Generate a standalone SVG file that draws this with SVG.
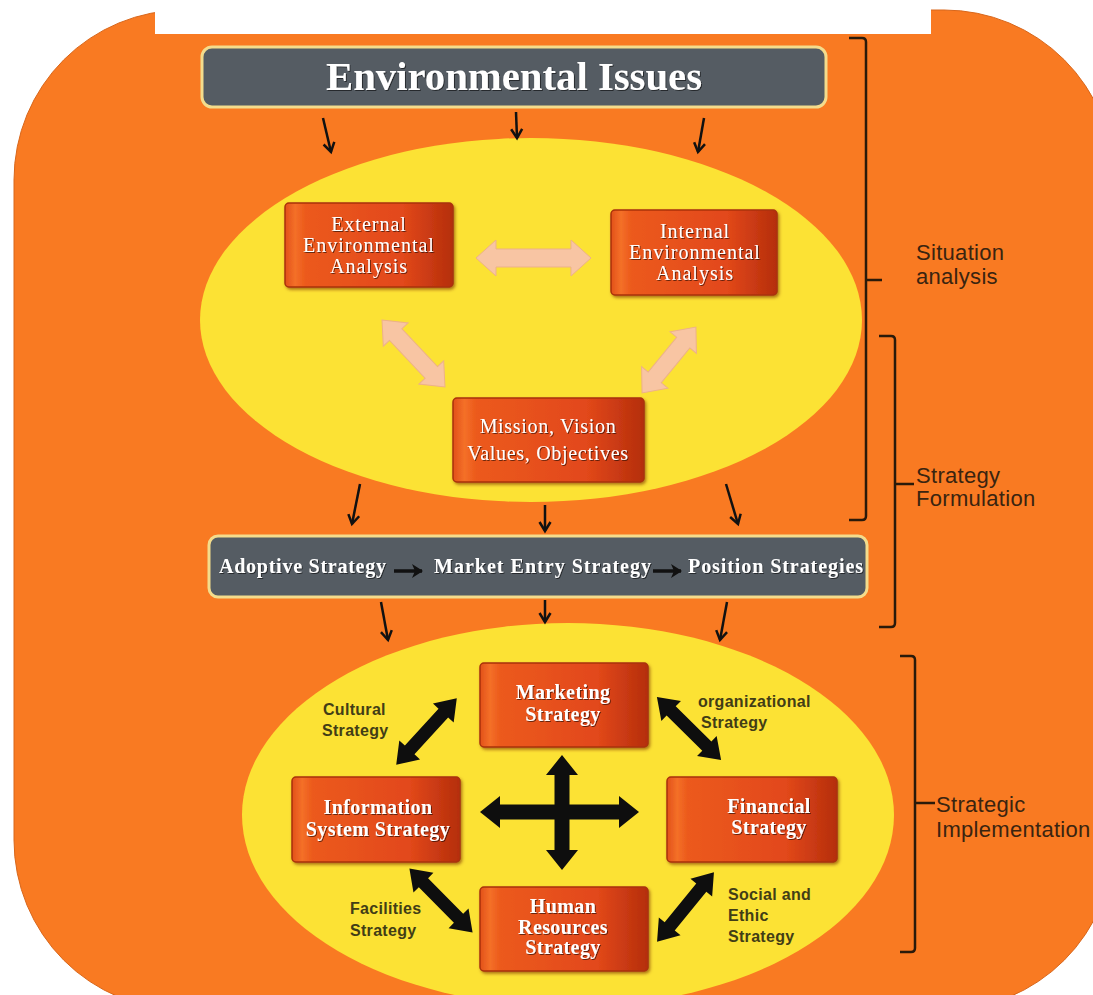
<svg xmlns="http://www.w3.org/2000/svg" xmlns:xlink="http://www.w3.org/1999/xlink" width="1093" height="995" viewBox="0 0 1093 995">
<style>
.bg{fill:#F97A22;stroke:#D8661A;stroke-width:1}
.ell{fill:#FCE234}
.bar{fill:#555C63;stroke:#F4DC8C;stroke-width:3}
.box{fill:url(#boxg);stroke:#A9320A;stroke-width:1.5}
.st{font-family:"Liberation Serif","Times New Roman",serif;fill:#FFFFFF;text-anchor:middle;font-size:20px;letter-spacing:1px}
.stb{font-family:"Liberation Serif","Times New Roman",serif;fill:#FFFFFF;font-weight:bold;text-anchor:middle;font-size:20px;letter-spacing:0.4px}
.bt{font-family:"Liberation Serif","Times New Roman",serif;fill:#FFFFFF;font-weight:bold;font-size:20px}
.lab{font-family:"Liberation Sans",Arial,sans-serif;fill:#423D16;font-size:16px;font-weight:bold;letter-spacing:0.3px}
.side{font-family:"Liberation Sans",Arial,sans-serif;fill:#3A2410;font-size:22px;letter-spacing:0.3px}
.brk{fill:none;stroke:#2A1A0A;stroke-width:2.5}
.thin{stroke:#111;stroke-width:2.5;fill:none;marker-end:url(#chev)}
.blk{fill:#0E0E0E}
.pch{fill:#F8C5A3;stroke:#EDB189;stroke-width:1}
</style>
<defs>
<linearGradient id="boxg" x1="0" y1="0" x2="1" y2="0">
<stop offset="0" stop-color="#E2501A"/>
<stop offset="0.06" stop-color="#F47028"/>
<stop offset="0.12" stop-color="#EC5A1C"/>
<stop offset="0.7" stop-color="#E2481A"/>
<stop offset="1" stop-color="#B52E0C"/>
</linearGradient>
<filter id="sh" x="-10%" y="-10%" width="130%" height="130%">
<feDropShadow dx="1.5" dy="2" stdDeviation="1.5" flood-color="#7A2A05" flood-opacity="0.6"/>
</filter>
<filter id="tsh" x="-10%" y="-20%" width="120%" height="150%">
<feDropShadow dx="1" dy="1" stdDeviation="0.7" flood-color="#000" flood-opacity="0.55"/>
</filter>
<marker id="chev" markerUnits="userSpaceOnUse" markerWidth="16" markerHeight="16" refX="11" refY="7" orient="auto">
<path d="M2,1.5 L11,7 L2,12.5" fill="none" stroke="#111" stroke-width="2.5"/>
</marker>
<marker id="tri" markerUnits="userSpaceOnUse" markerWidth="16" markerHeight="18" refX="12" refY="8" orient="auto">
<path d="M2,1 L13,8 L2,15 L5,8 z" fill="#111"/>
</marker>
<polygon id="dbl" class="blk" points="-45,0 -25,-14 -25,-6.5 25,-6.5 25,-14 45,0 25,14 25,6.5 -25,6.5 -25,14"/>
</defs>

<g id="background">
<rect class="bg" x="14" y="10" width="1100" height="1000" rx="170" ry="170"/>
<rect x="155" y="0" width="776" height="34" fill="#FFFFFF"/>
<ellipse class="ell" cx="531" cy="320" rx="331" ry="182"/>
<ellipse class="ell" cx="568" cy="815" rx="326" ry="192"/>
</g>

<g id="labels-edges">
<text class="lab" x="323" y="715">Cultural</text>
<text class="lab" x="322" y="736">Strategy</text>
<text class="lab" x="698" y="707">organizational</text>
<text class="lab" x="701" y="728">Strategy</text>
<text class="lab" x="350" y="914">Facilities</text>
<text class="lab" x="350" y="936">Strategy</text>
<text class="lab" x="728" y="900">Social and</text>
<text class="lab" x="728" y="921">Ethic</text>
<text class="lab" x="728" y="942">Strategy</text>
</g>

<g id="environmental-issues">
<rect class="bar" x="202" y="47" width="624" height="60" rx="10"/>
<text class="bt" x="514" y="90" text-anchor="middle" textLength="376" lengthAdjust="spacingAndGlyphs" filter="url(#tsh)" style="font-size:40px">Environmental Issues</text>
</g>

<g id="external-analysis">
<rect class="box" x="285" y="203" width="168" height="84" rx="4" filter="url(#sh)"/>
<text class="st" filter="url(#tsh)"><tspan x="369" y="231">External</tspan><tspan x="369" y="252">Environmental</tspan><tspan x="369" y="273">Analysis</tspan></text>
</g>

<g id="internal-analysis">
<rect class="box" x="611" y="210" width="166" height="85" rx="4" filter="url(#sh)"/>
<text class="st" filter="url(#tsh)"><tspan x="695" y="238">Internal</tspan><tspan x="695" y="259">Environmental</tspan><tspan x="695" y="280">Analysis</tspan></text>
</g>

<g id="mission">
<rect class="box" x="453" y="398" width="191" height="84" rx="4" filter="url(#sh)"/>
<text class="st" filter="url(#tsh)" style="letter-spacing:0.7px"><tspan x="548" y="433">Mission, Vision</tspan><tspan x="548" y="460">Values, Objectives</tspan></text>
</g>

<g id="strategy-bar">
<rect class="bar" x="209" y="536" width="658" height="61" rx="9"/>
<text class="bt" x="219" y="573" textLength="167" filter="url(#tsh)">Adoptive Strategy</text>
<text class="bt" x="434" y="573" textLength="217" filter="url(#tsh)">Market  Entry Strategy</text>
<text class="bt" x="688" y="573" textLength="175" filter="url(#tsh)">Position Strategies</text>
</g>

<g id="marketing">
<rect class="box" x="480" y="663" width="168" height="84" rx="4" filter="url(#sh)"/>
<text class="stb" filter="url(#tsh)"><tspan x="563" y="699">Marketing</tspan><tspan x="563" y="721">Strategy</tspan></text>
</g>

<g id="information-system">
<rect class="box" x="292" y="777" width="168" height="85" rx="4" filter="url(#sh)"/>
<text class="stb" filter="url(#tsh)"><tspan x="378" y="814">Information</tspan><tspan x="378" y="836">System Strategy</tspan></text>
</g>

<g id="financial">
<rect class="box" x="667" y="777" width="170" height="85" rx="4" filter="url(#sh)"/>
<text class="stb" filter="url(#tsh)"><tspan x="769" y="813">Financial</tspan><tspan x="769" y="834">Strategy</tspan></text>
</g>

<g id="human-resources">
<rect class="box" x="480" y="887" width="168" height="84" rx="4" filter="url(#sh)"/>
<text class="stb" filter="url(#tsh)"><tspan x="563" y="913">Human</tspan><tspan x="563" y="934">Resources</tspan><tspan x="563" y="954">Strategy</tspan></text>
</g>

<g id="connectors">
<line class="thin" x1="323" y1="118" x2="331" y2="152"/>
<line class="thin" x1="516" y1="112" x2="517" y2="138"/>
<line class="thin" x1="704" y1="118" x2="698" y2="152"/>
<polygon class="pch" points="476,258 496,240 496,249 571,249 571,240 591,258 571,276 571,267 496,267 496,276"/>
<polygon class="pch" transform="translate(413.5,353.5) rotate(46.8)" points="-46,0 -26,-17 -26,-8.5 26,-8.5 26,-17 46,0 26,17 26,8.5 -26,8.5 -26,17"/>
<polygon class="pch" transform="translate(669,360) rotate(-50.7)" points="-42.5,0 -22.5,-17 -22.5,-8.5 22.5,-8.5 22.5,-17 42.5,0 22.5,17 22.5,8.5 -22.5,8.5 -22.5,17"/>
<line class="thin" x1="360" y1="484" x2="352" y2="524"/>
<line class="thin" x1="545" y1="505" x2="545" y2="531"/>
<line class="thin" x1="726" y1="484" x2="738" y2="524"/>
<line x1="394" y1="571" x2="422" y2="571" stroke="#111" stroke-width="3.5" marker-end="url(#tri)"/>
<line x1="653" y1="571" x2="681" y2="571" stroke="#111" stroke-width="3.5" marker-end="url(#tri)"/>
<line class="thin" x1="381" y1="602" x2="388" y2="640"/>
<line class="thin" x1="545" y1="600" x2="545" y2="622"/>
<line class="thin" x1="727" y1="602" x2="720" y2="640"/>
<use href="#dbl" transform="translate(426.5,731.5) rotate(-47.7)"/>
<use href="#dbl" transform="translate(689,728.5) rotate(44.5)"/>
<use href="#dbl" transform="translate(441,900.5) rotate(45.4)"/>
<use href="#dbl" transform="translate(685.5,907) rotate(-50.8)"/>
<polygon class="blk" points="480,812 500,796 500,804.5 619,804.5 619,796 639,812 619,828 619,819.5 500,819.5 500,828"/>
<polygon class="blk" points="562,755 546,775 554.5,775 554.5,850 546,850 562,870 578,850 569.5,850 569.5,775 578,775"/>
</g>

<g id="brackets">
<path class="brk" d="M849,38 H862 Q866,38 866,42 V516 Q866,520 862,520 H849 M866,280 H882"/>
<path class="brk" d="M879,336 H891 Q895,336 895,340 V623 Q895,627 891,627 H879 M895,484 H914"/>
<path class="brk" d="M900,656 H911 Q915,656 915,660 V948 Q915,952 911,952 H900 M915,803 H935"/>
<text class="side" x="916" y="260">Situation</text>
<text class="side" x="916" y="284">analysis</text>
<text class="side" x="916" y="483">Strategy</text>
<text class="side" x="916" y="506">Formulation</text>
<text class="side" x="936" y="812">Strategic</text>
<text class="side" x="936" y="837">Implementation</text>
</g>
</svg>
